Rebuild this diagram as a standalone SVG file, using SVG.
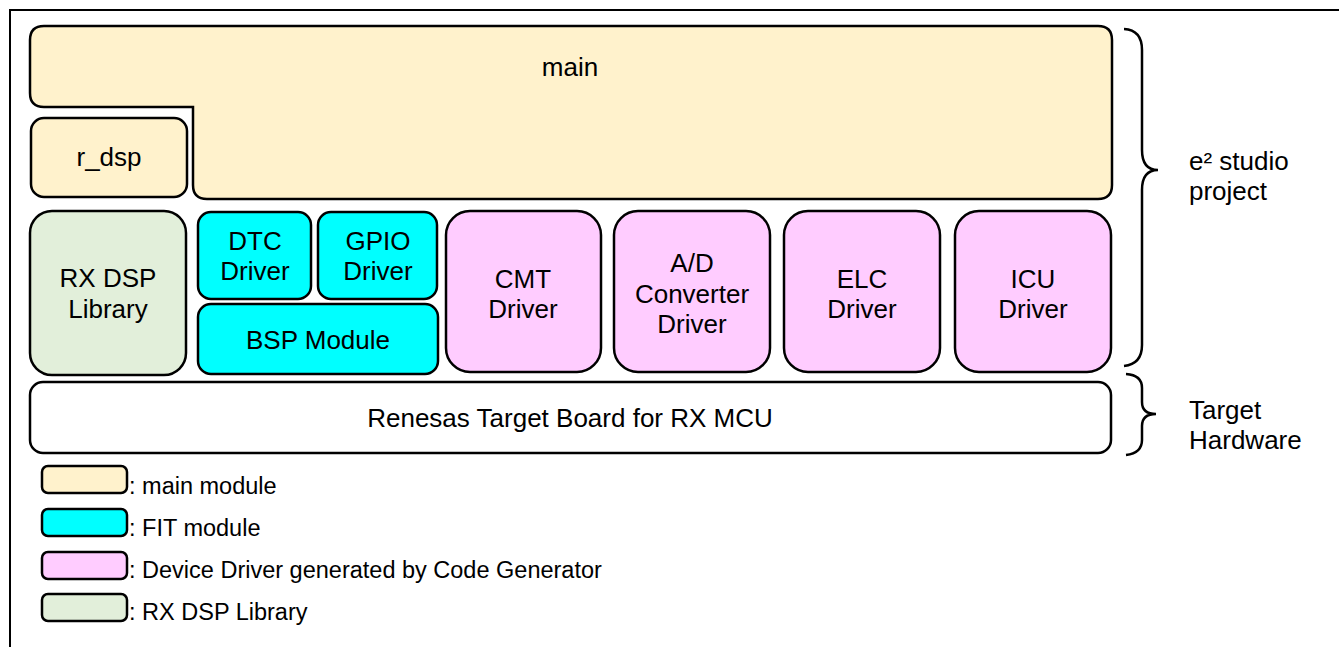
<svg xmlns="http://www.w3.org/2000/svg" width="1339" height="647" viewBox="0 0 1339 647">
<style>
.b{stroke:#000;stroke-width:2.5;}
.main{fill:#FFF2CC;}
.fit{fill:#00FFFF;}
.drv{fill:#FFCCFF;}
.lib{fill:#E2EFDA;}
.hw{fill:#FFFFFF;}
text{font-family:"Liberation Sans",Arial,sans-serif;fill:#000;}
.t{font-size:26px;text-anchor:middle;}
.s{font-size:26px;}
.l{font-size:23.5px;}
.br{fill:none;stroke:#000;stroke-width:2.5;}
</style>
<rect x="0" y="0" width="1339" height="647" fill="#fff"/>
<path d="M10,647 V10 H1339" fill="none" stroke="#000" stroke-width="2"/>

<g id="main">
<path class="b main" d="M44,26 H1098 Q1112,26 1112,40 V185 Q1112,199 1098,199 H207 Q193,199 193,185 V107 H44 Q30,107 30,93 V40 Q30,26 44,26 Z"/>
<text class="t" x="570" y="76">main</text>
</g>
<g id="r_dsp">
<rect class="b main" x="31" y="118" width="156" height="79" rx="13"/>
<text class="t" x="109" y="166">r_dsp</text>
</g>
<g id="rxdsp">
<rect class="b lib" x="30" y="211" width="156" height="164" rx="22"/>
<text class="t" x="108" y="287">RX DSP</text>
<text class="t" x="108" y="318">Library</text>
</g>
<g id="dtc">
<rect class="b fit" x="198" y="212" width="113" height="87" rx="13"/>
<text class="t" x="255" y="250">DTC</text>
<text class="t" x="255" y="280">Driver</text>
</g>
<g id="gpio">
<rect class="b fit" x="318" y="212" width="119" height="87" rx="13"/>
<text class="t" x="378" y="250">GPIO</text>
<text class="t" x="378" y="280">Driver</text>
</g>
<g id="bsp">
<rect class="b fit" x="198" y="304" width="240" height="70" rx="13"/>
<text class="t" x="318" y="349">BSP Module</text>
</g>
<g id="cmt">
<rect class="b drv" x="446" y="211" width="155" height="161" rx="24"/>
<text class="t" x="523" y="288">CMT</text>
<text class="t" x="523" y="318">Driver</text>
</g>
<g id="ad">
<rect class="b drv" x="614" y="211" width="156" height="161" rx="24"/>
<text class="t" x="692" y="272">A/D</text>
<text class="t" x="692" y="303">Converter</text>
<text class="t" x="692" y="333">Driver</text>
</g>
<g id="elc">
<rect class="b drv" x="784" y="211" width="156" height="161" rx="24"/>
<text class="t" x="862" y="288">ELC</text>
<text class="t" x="862" y="318">Driver</text>
</g>
<g id="icu">
<rect class="b drv" x="955" y="211" width="156" height="161" rx="24"/>
<text class="t" x="1033" y="288">ICU</text>
<text class="t" x="1033" y="318">Driver</text>
</g>
<g id="board">
<rect class="b hw" x="30" y="382" width="1081" height="71" rx="13"/>
<text class="t" x="570" y="427">Renesas Target Board for RX MCU</text>
</g>

<g id="braces">
<path class="br" d="M1124,29 Q1142,30 1142,50 V150 Q1142,170 1158,170 Q1142,170 1142,190 V345 Q1142,364 1124,366"/>
<path class="br" d="M1126,374 Q1142,375 1142,388 V402 Q1142,414 1156,414 Q1142,414 1142,426 V440 Q1142,453 1126,455"/>
<text class="s" x="1189" y="170">e² studio</text>
<text class="s" x="1189" y="200">project</text>
<text class="s" x="1189" y="419">Target</text>
<text class="s" x="1189" y="449">Hardware</text>
</g>

<g id="legend">
<rect class="b main" x="42" y="466" width="85" height="27" rx="6"/>
<text class="l" x="129" y="494">: main module</text>
<rect class="b fit" x="42" y="509" width="85" height="27" rx="6"/>
<text class="l" x="129" y="536">: FIT module</text>
<rect class="b drv" x="42" y="552" width="85" height="27" rx="6"/>
<text class="l" x="129" y="578">: Device Driver generated by Code Generator</text>
<rect class="b lib" x="42" y="594" width="85" height="27" rx="6"/>
<text class="l" x="129" y="620">: RX DSP Library</text>
</g>
</svg>
